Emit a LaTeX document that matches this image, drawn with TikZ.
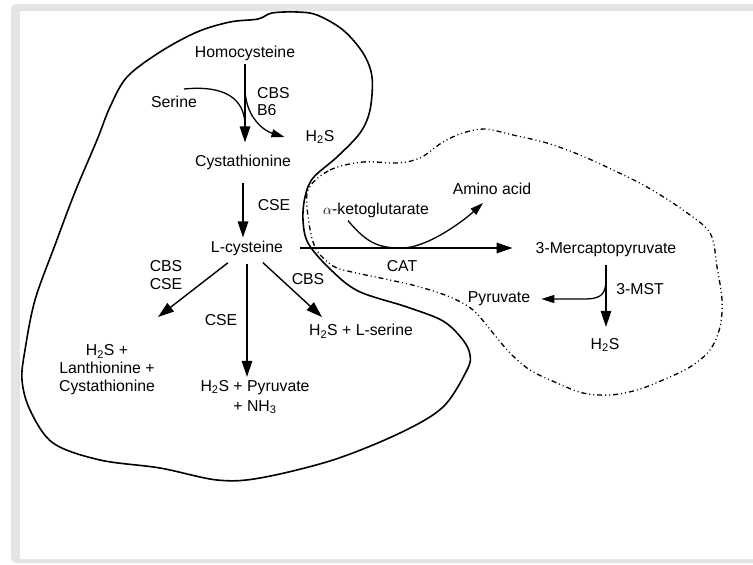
\documentclass[tikz,border=0pt]{standalone}
\usepackage{fontspec}
\setmainfont{Liberation Sans}
\usetikzlibrary{arrows.meta,calc}
\definecolor{framegray}{RGB}{228,228,228}

\begin{document}
\begin{tikzpicture}[
    x=1pt, y=-1pt,
    every node/.style={font=\fontsize{15.8}{18}\selectfont, inner sep=3pt},
    arrowline/.style={line width=1.4pt, -{Triangle[length=16pt, width=10.5pt]}},
    thinarrow/.style={line width=1.3pt, -{Triangle[length=13pt, width=8pt]}},
    cellwall/.style={line width=1.6pt},
    mitowall/.style={line width=1.3pt, dash pattern=on 5pt off 3pt on 1pt off 3pt on 1pt off 3pt}
]
\useasboundingbox (0,0) rectangle (753,565);
\clip (0,0) rectangle (753,565);

% Frame
\fill[framegray, rounded corners=5pt] (11,4) rectangle (780,563);
\fill[white, rounded corners=2pt] (20,11) rectangle (780,559);

% Outlines
\draw[cellwall] plot[smooth cycle, tension=0.55] coordinates {
    (35,300) (55,245) (75,192) (97,140) (110,107) (127,77) (160,52) (197,32)
    (230,22) (258,19) (272,13) (297,12) (317,15) (343,30) (363,53) (372,77)
    (370,110) (360,133) (337,157) (313,178) (305,197) (303,220) (308,243)
    (329,268) (358,291) (407,307) (443,321) (463,340) (470,355) (467,370)
    (443,407) (400,433) (333,460) (260,478) (217,480) (160,468) (100,460)
    (53,443) (30,410) (22,380) (25,350)};
\draw[mitowall] plot[smooth cycle, tension=0.55] coordinates {
    (308,190) (330,170) (363,162) (397,163) (420,158) (443,142) (463,133)
    (485,129) (513,135) (547,143) (580,155) (613,170) (647,187) (683,210)
    (710,233) (717,267) (722,300) (720,327) (710,350) (690,367) (663,380)
    (637,390) (610,395) (583,393) (557,383) (530,370) (510,353) (493,333)
    (473,310) (450,297) (420,287) (390,280) (352,272) (333,266) (316,249)
    (309,223)};

% Main pathway
\node (homo) at (245,53) {Homocysteine};
\node (serine) at (174,102) {Serine};
\node[anchor=west, align=left] (cbsb) at (254,101.5) {CBS\\[-1pt]B6};
\node (h2sa) at (320,137) {H\textsubscript{2}S};
\node (cyst) at (243,162) {Cystathionine};
\node (cse1) at (274,205) {CSE};
\node (lcys) at (247,248) {L-cysteine};

% Products of L-cysteine
\node[align=center] (cbscse) at (166,275) {CBS\\CSE};
\node (cse2) at (221,320) {CSE};
\node (cbs3) at (308,279) {CBS};
\node[align=center] (lan) at (107,370) {H\textsubscript{2}S +\\Lanthionine +\\Cystathionine};
\node[align=center] (pyr) at (255,397) {H\textsubscript{2}S + Pyruvate\\[2pt]+ NH\textsubscript{3}};
\node (ser) at (361,331) {H\textsubscript{2}S + L-serine};

% Mitochondrial side
\node (akg) at (376,210) {$\alpha$-ketoglutarate};
\node (amino) at (492,189) {Amino acid};
\node (cat) at (402,266) {CAT};
\node (mpy) at (606,250) {3-Mercaptopyruvate};
\node (pyr2) at (499,299) {Pyruvate};
\node (mst) at (640,289) {3-MST};
\node (h2sb) at (605,345) {H\textsubscript{2}S};

\coordinate (branch) at (245,90);
\coordinate (merge) at (245,126);
\coordinate (tipL) at (158,317);
\coordinate (tipR) at (322,317);
\coordinate (split) at (606,278);

% Arrows
\draw[arrowline, shorten >=9pt] (homo) -- (homo |- cyst.north);
\draw[line width=1.3pt] ([shift={(10,-4)}]serine.north) .. controls +(40,-4) and +(0,-28) .. (merge);
\draw[thinarrow] (branch) .. controls +(1,28) and +(-20,-6) .. ([xshift=-18pt]h2sa.west);
\draw[arrowline, shorten <=10pt] (cyst) -- (cyst |- lcys.north);
\draw[arrowline, shorten <=7pt] (lcys) -- (tipL);
\draw[arrowline, shorten <=5pt] (lcys) -- (lcys |- pyr.north);
\draw[arrowline, shorten <=6pt] (lcys) -- (tipR);
\draw[arrowline, shorten <=14pt, shorten >=20pt] (lcys.east) -- (lcys.east -| mpy.west);
\draw[thinarrow] ([xshift=-28pt]akg.south) .. controls +(20,24) and +(-22,0) .. (cat.north |- lcys.east)
    .. controls +(24,0) and +(-22,20) .. ([shift={(-9,5)}]amino.south);
\draw[arrowline, shorten <=5pt, shorten >=8pt] (mpy) -- (mpy |- h2sb.north);
\draw[thinarrow, shorten >=8pt] (split) .. controls +(0,16) and +(18,0) .. ++(-22,21) -- (pyr2.east);

\end{tikzpicture}
\end{document}
